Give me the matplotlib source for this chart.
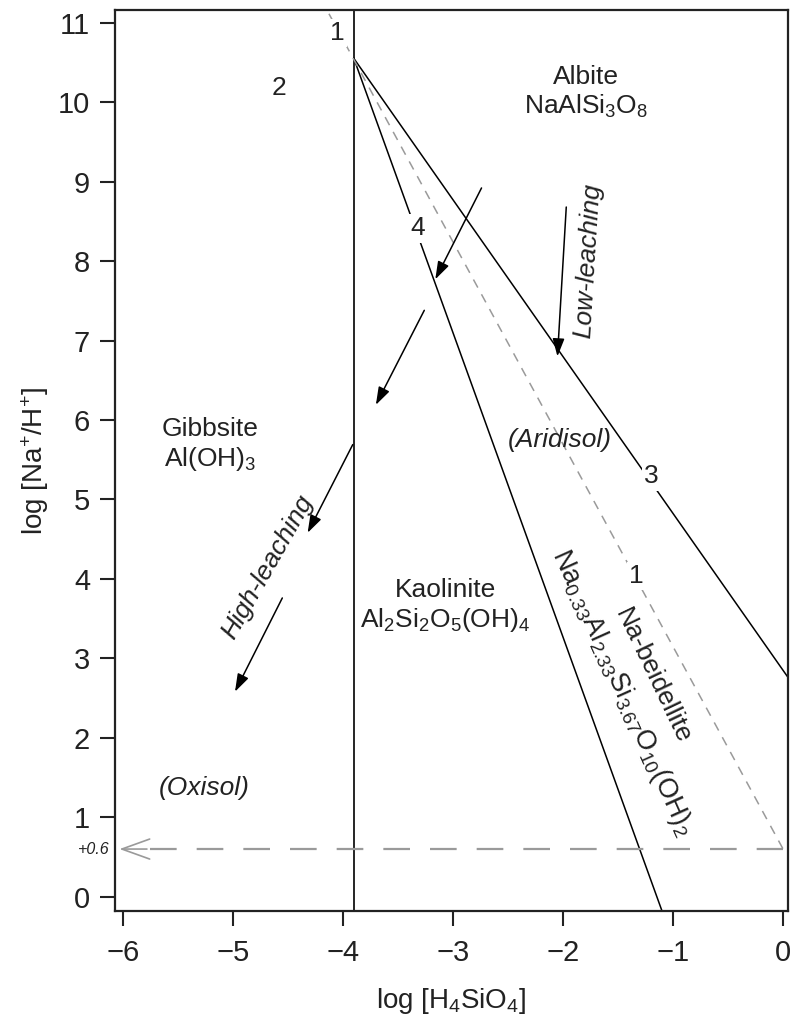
import matplotlib
matplotlib.use("Agg")
import matplotlib.pyplot as plt

plt.rcParams['font.family'] = ['Liberation Sans', 'DejaVu Sans']
plt.rcParams['mathtext.fontset'] = 'custom'
plt.rcParams['mathtext.rm'] = 'Liberation Sans'
plt.rcParams['mathtext.it'] = 'Liberation Sans:italic'
plt.rcParams['mathtext.default'] = 'rm'

# stability boundaries (log H4SiO4, log Na+/H+)
gibbsite_kaol_x = [-3.9, -3.9]
gibbsite_kaol_y = [-0.5, 11.5]
albite_beid_x = [-3.9, 0.05]          # line 3
albite_beid_y = [10.55, 2.75]
kaol_beid_x = [-3.9, -1.1]            # line 4
kaol_beid_y = [10.55, -0.18]
albite_kaol_x = [-4.2, 0.0]           # line 1 (dashed)
albite_kaol_y = [11.3, 0.6]
sat_x = [-5.75, 0.0]                  # +0.6 level
sat_y = [0.6, 0.6]

# weathering arrows: (start, tip)
arrows = [
    ((-2.74, 8.92), (-3.16, 7.77)),
    ((-3.26, 7.38), (-3.70, 6.19)),
    ((-3.91, 5.69), (-4.32, 4.58)),
    ((-4.55, 3.76), (-4.98, 2.58)),
    ((-1.97, 8.68), (-2.05, 6.80)),
]

# line numbers
num_labels = ['1', '2', '4', '3', '1']
num_x = [-4.05, -4.58, -3.32, -1.20, -1.33]
num_y = [10.87, 10.18, 8.41, 5.29, 4.04]

xticks = [-6, -5, -4, -3, -2, -1, 0]
xticklabels = ['\u22126', '\u22125', '\u22124', '\u22123', '\u22122', '\u22121', '0']
yticks = list(range(0, 12))

fig = plt.figure(figsize=(7.96, 10.17), dpi=100)
ax = fig.add_axes([0.1445, 0.1042, 0.8455, 0.886])

ax.plot(gibbsite_kaol_x, gibbsite_kaol_y, color='black', lw=1.2)
ax.plot(albite_beid_x, albite_beid_y, color='black', lw=1.1)
ax.plot(kaol_beid_x, kaol_beid_y, color='black', lw=1.1)
ax.plot(albite_kaol_x, albite_kaol_y, color='#9a9a9a', lw=1.1, dashes=(6, 5))
ax.plot(sat_x, sat_y, color='#9a9a9a', lw=1.6, dashes=(12, 9))
ax.annotate('', xy=(-6.03, 0.6), xytext=(-5.78, 0.6),
            arrowprops=dict(arrowstyle='->,head_length=1.0,head_width=0.36',
                            color='#9a9a9a', lw=1.2, mutation_scale=20,
                            shrinkA=0, shrinkB=0))

for start, tip in arrows:
    ax.annotate('', xy=tip, xytext=start,
                arrowprops=dict(arrowstyle='-|>,head_length=0.9,head_width=0.3',
                                color='black', lw=1.1, mutation_scale=12,
                                shrinkA=0, shrinkB=0))

fs = 19
for s, x, y in zip(num_labels, num_x, num_y):
    ax.text(x, y, s, fontsize=fs, ha='center', va='center', color='#222222',
            bbox=dict(facecolor='white', edgecolor='none', pad=1.5))

ax.text(-1.79, 10.12, 'Albite\nNaAlSi$_3$O$_8$', fontsize=fs, ha='center',
        va='center', linespacing=1.2, color='#222222')
ax.text(-5.21, 5.69, 'Gibbsite\nAl(OH)$_3$', fontsize=fs, ha='center',
        va='center', linespacing=1.2, color='#222222')
ax.text(-3.07, 3.66, 'Kaolinite\nAl$_2$Si$_2$O$_5$(OH)$_4$', fontsize=fs,
        ha='center', va='center', linespacing=1.2, color='#222222')
ax.text(-1.18, 2.78, 'Na-beidellite', fontsize=fs, ha='center', va='center',
        rotation=-64.5, rotation_mode='anchor', color='#222222')
ax.text(-1.46, 2.57, 'Na$_{0.33}$Al$_{2.33}$Si$_{3.67}$O$_{10}$(OH)$_2$',
        fontsize=fs + 0.5, ha='center', va='center', rotation=-65.8,
        rotation_mode='anchor', color='#222222')
ax.text(-2.03, 5.75, '(Aridisol)', fontsize=fs, style='italic', ha='center',
        va='center', color='#222222')
ax.text(-5.26, 1.37, '(Oxisol)', fontsize=fs, style='italic', ha='center',
        va='center', color='#222222')
ax.text(-1.77, 8.0, 'Low-leaching', fontsize=fs, style='italic', ha='center',
        va='center', rotation=86.5, rotation_mode='anchor', color='#222222')
ax.text(-4.68, 4.15, 'High-leaching', fontsize=fs, style='italic', ha='center',
        va='center', rotation=60.4, rotation_mode='anchor', color='#222222')
ax.text(-6.12, 0.6, '+0.6', fontsize=11.5, style='italic', ha='right',
        va='center', color='#222222', clip_on=False)

ax.set_xlim(-6.07, 0.045)
ax.set_ylim(-0.18, 11.16)
ax.set_xticks(xticks)
ax.set_xticklabels(xticklabels)
ax.set_yticks(yticks)
ax.tick_params(direction='out', length=11, width=1.5, labelsize=21,
               colors='#222222')
ax.tick_params(axis='x', pad=9)
ax.tick_params(axis='y', pad=7)
for sp in ax.spines.values():
    sp.set_linewidth(1.6)
    sp.set_color('#222222')

ax.set_xlabel('log [H$_4$SiO$_4$]', fontsize=20, color='#222222', labelpad=14)
ax.set_ylabel('log [Na$^{+}$/H$^{+}$]', fontsize=20, color='#222222', labelpad=5)

fig.savefig('out.png', dpi=100)
